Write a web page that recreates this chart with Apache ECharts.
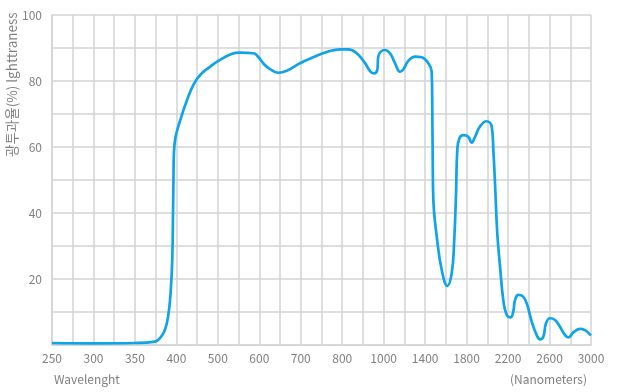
<!DOCTYPE html>
<html>
<head>
<meta charset="utf-8">
<script src="https://cdn.jsdelivr.net/npm/echarts@6/dist/echarts.min.js"></script>
<style>
html,body{margin:0;padding:0;background:#fff;}
#chart{width:620px;height:392px;}
</style>
</head>
<body>
<div id="chart"></div>
<script>
// Tick wavelengths of the (non-linear) x axis, one per labelled tick
var tickWavelengths = [250, 300, 350, 400, 500, 600, 700, 800, 1000, 1400, 1800, 2200, 2600, 3000];

// Wavelength (nm)
var wavelengths = [250, 300, 350, 374, 380, 386, 390, 393, 395, 396, 396.5, 397, 399, 409, 425, 441, 457, 481, 505, 533, 553, 586, 598, 612, 626, 646, 666, 698, 730, 763, 795, 829, 870, 910, 934, 953, 969, 974, 986, 1013, 1061, 1109, 1158, 1189, 1238, 1302, 1367, 1430, 1463, 1469, 1473, 1479, 1512, 1560, 1614, 1656, 1679, 1698, 1710, 1730, 1768, 1816, 1849, 1881, 1929, 1991, 2042, 2058, 2074, 2096, 2122, 2154, 2187, 2226, 2250, 2267, 2299, 2341, 2380, 2428, 2476, 2508, 2540, 2566, 2605, 2653, 2701, 2750, 2781, 2830, 2894, 2942, 2990, 3000];

// Light transmittance (%)
var transmittance = [0.6, 0.5, 0.6, 1.0, 2.0, 4.5, 8.6, 15.7, 25.8, 41, 51, 58, 63, 68, 74, 78.8, 81.8, 84.3, 86.4, 88.2, 88.6, 88.4, 87.2, 85, 83.6, 82.5, 83.1, 85.4, 87.2, 88.8, 89.6, 89.6, 88.4, 85.4, 83.0, 82.3, 83.3, 87.4, 88.9, 89.4, 88.4, 85.4, 82.8, 83.5, 86.1, 87.4, 87.2, 85.4, 82.8, 71.2, 56, 43.9, 32.8, 22.7, 17.9, 21.7, 30.8, 46, 59, 62.6, 63.6, 63.1, 61.3, 63.1, 66.2, 67.8, 66.2, 59, 49, 33.8, 24, 13.6, 9.1, 8.4, 10.1, 13.6, 15.2, 14.8, 12.6, 7.1, 3.0, 1.7, 2.5, 6.6, 8.1, 7.6, 5.5, 3.0, 2.3, 3.8, 4.9, 4.5, 3.2, 2.9];

var yTicks = [0, 20, 40, 60, 80, 100];

// map a wavelength onto the piecewise tick index scale of the axis
function toIndex(w) {
  for (var i = 0; i < tickWavelengths.length - 1; i++) {
    var a = tickWavelengths[i], b = tickWavelengths[i + 1];
    if (w <= b) return i + (w - a) / (b - a);
  }
  return tickWavelengths.length - 1;
}

var seriesData = wavelengths.map(function (w, i) { return [toIndex(w), transmittance[i]]; });

var gridColor = '#d3d3d3';
var labelColor = '#808080';
var fontFam = '"Noto Sans CJK KR","Noto Sans",sans-serif';

var chart = echarts.init(document.getElementById('chart'), null, {renderer: 'canvas'});
chart.setOption({
  animation: false,
  backgroundColor: '#fff',
  grid: {left: 52, right: 29, top: 15, bottom: 47, containLabel: false},
  xAxis: {
    type: 'value',
    min: 0,
    max: tickWavelengths.length - 1,
    interval: 0.5,
    axisLine: {show: true, lineStyle: {color: gridColor, width: 1.5}},
    axisTick: {show: false},
    axisLabel: {
      color: labelColor, fontSize: 12, fontFamily: fontFam, margin: 7,
      formatter: function (v) {
        return Number.isInteger(v) ? String(tickWavelengths[v]) : '';
      }
    },
    splitLine: {show: true, lineStyle: {color: gridColor, width: 1.5}}
  },
  yAxis: {
    type: 'value',
    min: 0,
    max: 100,
    interval: 10,
    axisLine: {show: true, lineStyle: {color: gridColor, width: 1.5}},
    axisTick: {show: false},
    axisLabel: {
      color: labelColor, fontSize: 12, fontFamily: fontFam, margin: 10,
      formatter: function (v) {
        return (v !== 0 && yTicks.indexOf(v) >= 0) ? String(v) : '';
      }
    },
    splitLine: {show: true, lineStyle: {color: gridColor, width: 1.5}}
  },
  graphic: [
    {type: 'text', left: 54, top: 373, style: {text: 'Wavelenght', fill: labelColor, font: '12px ' + fontFam}},
    {type: 'text', right: 33, top: 373, style: {text: '(Nanometers)', fill: labelColor, font: '12px ' + fontFam}},
    {type: 'text', x: 5, y: 157, rotation: Math.PI / 2,
     style: {text: '광투과율(%) lghttraness', fill: labelColor, font: '13.5px ' + fontFam, align: 'left', verticalAlign: 'top'}}
  ],
  series: [{
    type: 'line',
    data: seriesData,
    showSymbol: false,
    smooth: 0.45,
    lineStyle: {color: '#0fa3e8', width: 2.7},
    itemStyle: {color: '#0fa3e8'}
  }]
});
</script>
</body>
</html>
